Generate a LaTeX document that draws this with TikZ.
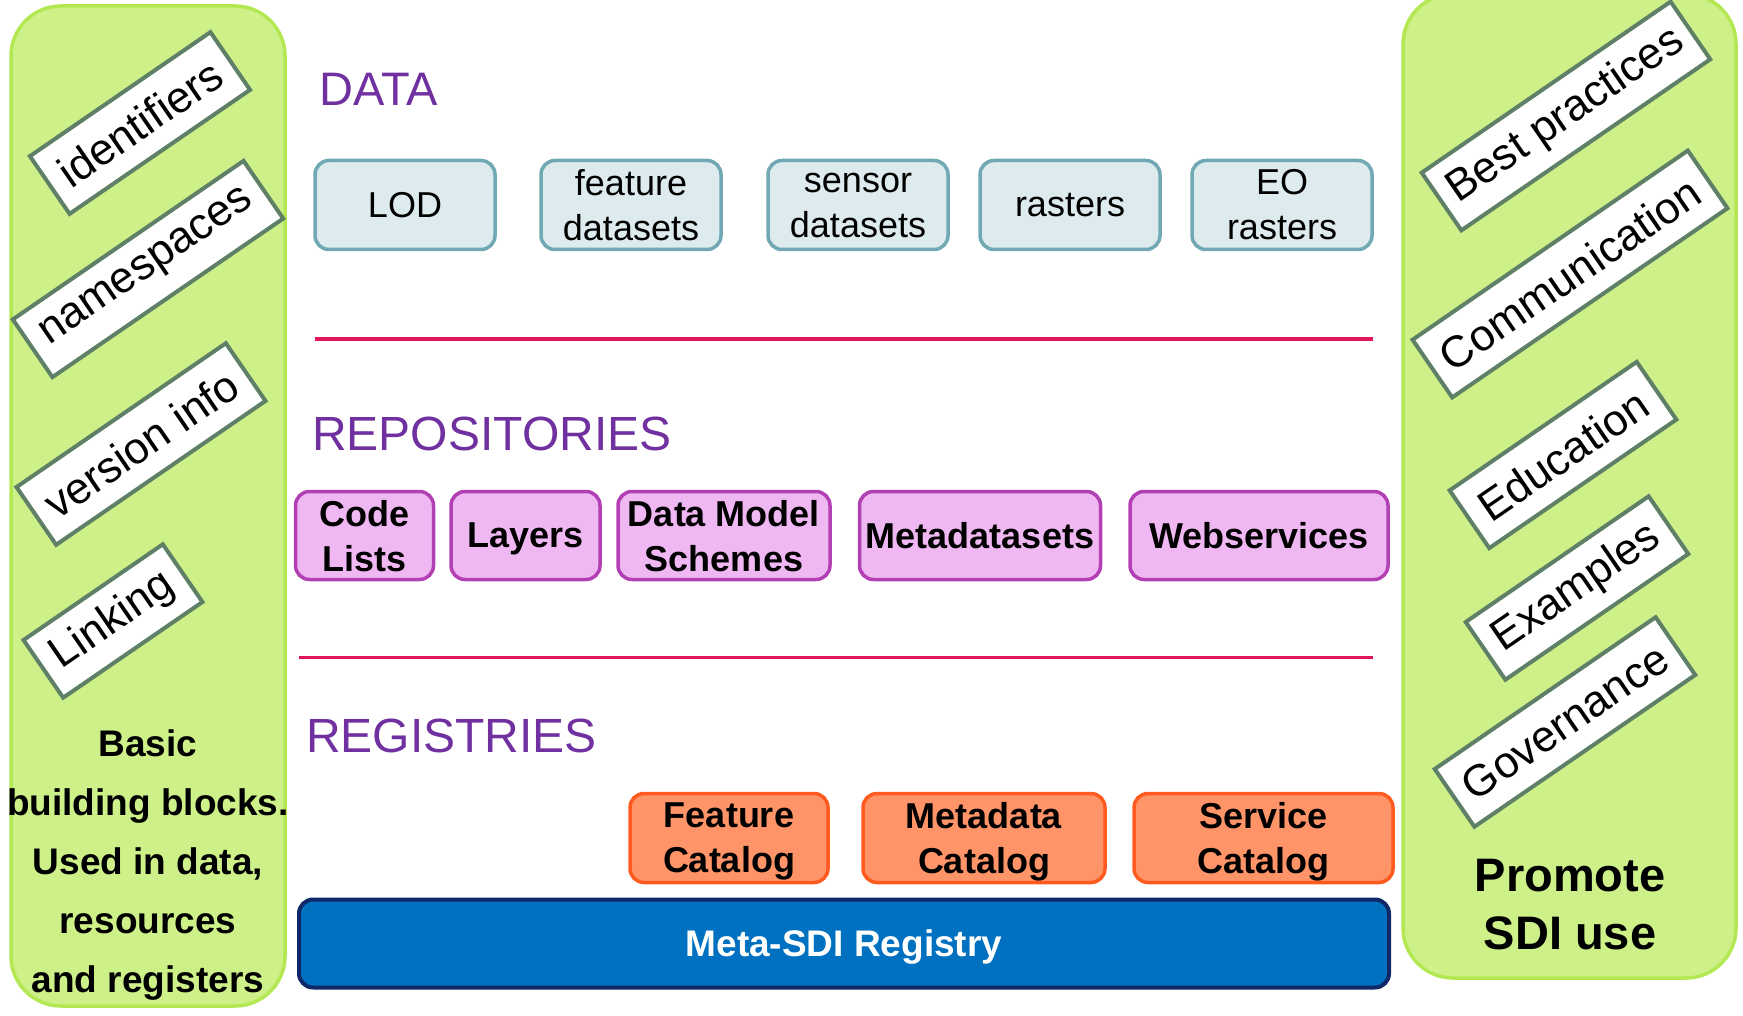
\documentclass[tikz,border=0pt]{standalone}
\usepackage{fontspec}
\setmainfont{Liberation Sans}
\definecolor{panelfill}{RGB}{205,240,136}
\definecolor{paneledge}{RGB}{180,232,82}
\definecolor{tagedge}{RGB}{94,128,102}
\definecolor{headpurple}{RGB}{112,48,160}
\definecolor{rulered}{RGB}{226,22,92}
\definecolor{datafill}{RGB}{221,234,238}
\definecolor{dataedge}{RGB}{112,168,180}
\definecolor{repofill}{RGB}{240,184,242}
\definecolor{repoedge}{RGB}{178,64,180}
\definecolor{regfill}{RGB}{255,148,104}
\definecolor{regedge}{RGB}{255,90,32}
\definecolor{sdifill}{RGB}{0,112,192}
\definecolor{sdiedge}{RGB}{14,40,104}
\tikzset{
  panel/.style={draw=paneledge, fill=panelfill, line width=3.5pt, rounded corners=50pt},
  tag/.style={draw=tagedge, fill=white, line width=4pt, rotate=34.5, minimum height=70pt,
    inner sep=0pt, font=\fontsize{44}{50}\selectfont},
  heading/.style={anchor=west, inner sep=0pt, text=headpurple, font=\fontsize{48}{54}\selectfont},
  sepline/.style={draw=rulered, line width=3pt},
  databox/.style={draw=dataedge, fill=datafill, line width=3.5pt, rounded corners=14pt,
    minimum height=89pt, minimum width=180pt, inner sep=0pt, align=center,
    font=\fontsize{36}{45}\selectfont},
  repobox/.style={draw=repoedge, fill=repofill, line width=3.5pt, rounded corners=14pt,
    minimum height=88pt, inner sep=0pt, text depth=0pt, align=center,
    font=\bfseries\fontsize{36}{45}\selectfont},
  regbox/.style={draw=regedge, fill=regfill, line width=3.5pt, rounded corners=14pt,
    minimum height=89pt, inner sep=0pt, text depth=0pt, align=center,
    font=\bfseries\fontsize{36}{45}\selectfont},
  sdibox/.style={draw=sdiedge, fill=sdifill, line width=4pt, rounded corners=14pt,
    minimum height=88pt, inner sep=0pt, text depth=0pt, text=white,
    font=\bfseries\fontsize{37}{45}\selectfont},
  paneltext/.style={align=center, inner sep=0pt, font=\bfseries\fontsize{37}{59}\selectfont},
}
\begin{document}
\begin{tikzpicture}[x=1pt, y=-1pt]
\useasboundingbox (0,0) rectangle (1743,1016);

% side panels
\draw[panel] (11,6) rectangle (285,1006);
\draw[panel] (1403,-6) rectangle (1736,978);

% basic building blocks
\node[tag, minimum width=219pt] (ident) at (140,123) {identifiers};
\node[tag, minimum width=280pt] (names) at (148,269) {namespaces};
\node[tag, minimum width=254pt] (vers) at (141,444) {version info};
\node[tag, minimum width=169pt] (link) at (113,621) {Linking};
\node[paneltext] (basic) at (148,865) {Basic\\building blocks.\\Used in data,\\resources\\and registers};

% promotion topics
\node[tag, minimum width=302pt] (best) at (1566,116) {Best practices};
\node[tag, minimum width=334pt] (comm) at (1570,274) {Communication};
\node[tag, minimum width=227pt] (edu) at (1563,455) {Education};
\node[tag, minimum width=222pt] (expl) at (1577,588) {Examples};
\node[tag, minimum width=268pt] (gov) at (1565,722) {Governance};
\node[paneltext, font=\bfseries\fontsize{47}{58}\selectfont] (promote) at (1570,905) {Promote\\SDI use};

% data layer
\node[heading, font=\fontsize{47}{54}\selectfont] (hdata) at (319,89) {DATA};
\node[databox] (lod) at (405,205) {LOD};
\node[databox] (feat) at (631,205) {feature\\datasets};
\node[databox] (sens) at (858,205) {sensor\\datasets};
\node[databox] (rast) at (1070,205) {rasters};
\node[databox] (eo) at (1282,205) {EO\\rasters};

\coordinate (r1a) at (315,339);
\coordinate (r1b) at (1373,339);
\draw[sepline] (r1a) -- (r1b);

% repositories layer
\node[heading] (hrepo) at (312,434) {REPOSITORIES};
\node[repobox, minimum width=138pt] (code) at (364.5,535.5) {Code\\Lists};
\node[repobox, minimum width=149pt] (layers) at (525.5,535.5) {Layers};
\node[repobox, minimum width=212pt] (dms) at (724,535.5) {Data Model\\Schemes};
\node[repobox, minimum width=241pt] (mds) at (980,535.5) {Metadatasets};
\node[repobox, minimum width=258pt] (ws) at (1259,535.5) {Webservices};

\coordinate (r2a) at (299,657);
\coordinate (r2b) at (1373,657);
\draw[sepline] (r2a) -- (r2b);

% registries layer
\node[heading] (hreg) at (306,736) {REGISTRIES};
\node[regbox, minimum width=198pt] (fcat) at (729,838) {Feature\\Catalog};
\node[regbox, minimum width=242pt] (mcat) at (984,838) {Metadata\\Catalog};
\node[regbox, minimum width=259pt] (scat) at (1263.5,838) {Service\\Catalog};
\node[sdibox, minimum width=1090pt] (sdi) at (844,943.5) {Meta-SDI Registry};
\end{tikzpicture}
\end{document}
